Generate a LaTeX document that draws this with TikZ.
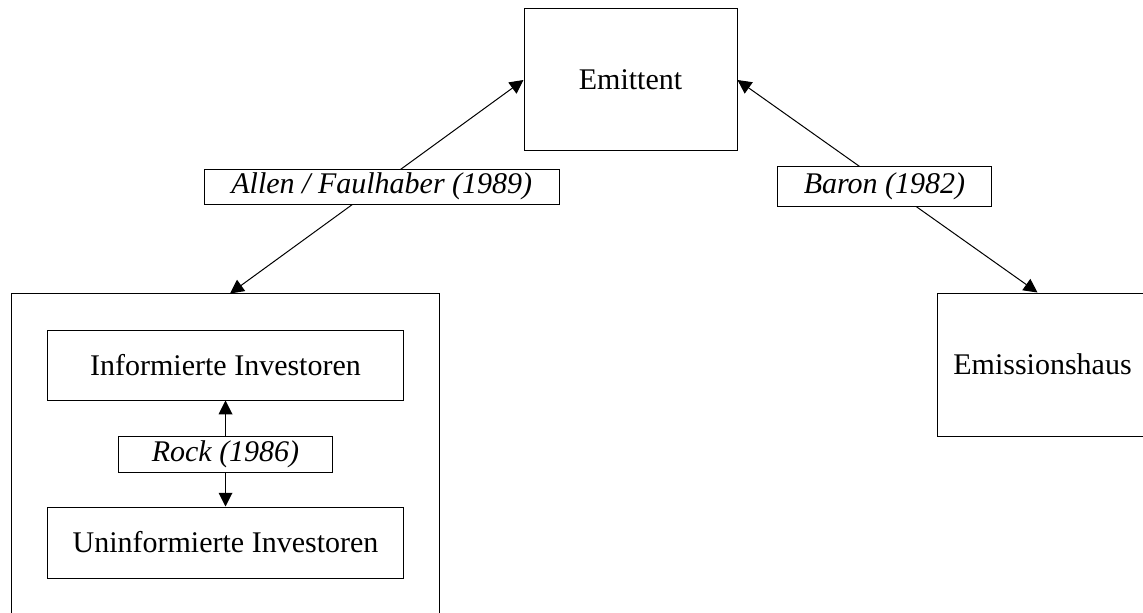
\documentclass[tikz,border=0pt]{standalone}
\usepackage{fontspec}
\setmainfont{Liberation Serif}
\usetikzlibrary{arrows.meta}

\begin{document}
\begin{tikzpicture}[>={Triangle[length=5.5pt,width=5.5pt]}, x=0.4pt, y=-0.4pt,
        font=\fontsize{12}{14}\selectfont,
        box/.style={draw, inner sep=0pt, align=center},
        lbl/.style={draw, fill=white, inner sep=0pt, font=\fontsize{12}{14}\selectfont\itshape}]
        \path[use as bounding box, clip] (0,0) rectangle (1143,612);
        \node[box, minimum width=85.2pt, minimum height=56.8pt] (emittent) at (630.5,80) {Emittent};
        \node[box, minimum width=84.4pt, minimum height=57.2pt] (emhaus) at (1042.5,364.5) {Emissionshaus};
        % Investoren (unten abgeschnitten)
        \node[box, minimum width=170.8pt, minimum height=136pt] (investoren) at (225.5,464) {};
        \node[box, minimum width=142pt, minimum height=28pt] (inform) at (225.5,365) {Informierte Investoren};
        \node[box, minimum width=142pt, minimum height=28.4pt] (uninform) at (225.5,542.5) {Uninformierte Investoren};
        \node[lbl, minimum width=85.6pt, minimum height=14.4pt] (rock) at (225.5,454) {Rock (1986)};
        \draw[->] (rock.north) -- (inform.south);
        \draw[->] (rock.south) -- (uninform.north);
        \draw[<->] (emittent.west) -- node[lbl, minimum width=142pt, minimum height=14pt, xshift=2pt] (allen) {Allen / Faulhaber (1989)} ([xshift=1.8pt]investoren.north);
        \draw[<->] (emittent.east) -- node[lbl, minimum width=85.6pt, minimum height=16pt, xshift=-1.2pt] (baron) {Baron (1982)} ([xshift=-2pt]emhaus.north);
    \end{tikzpicture}
\end{document}
